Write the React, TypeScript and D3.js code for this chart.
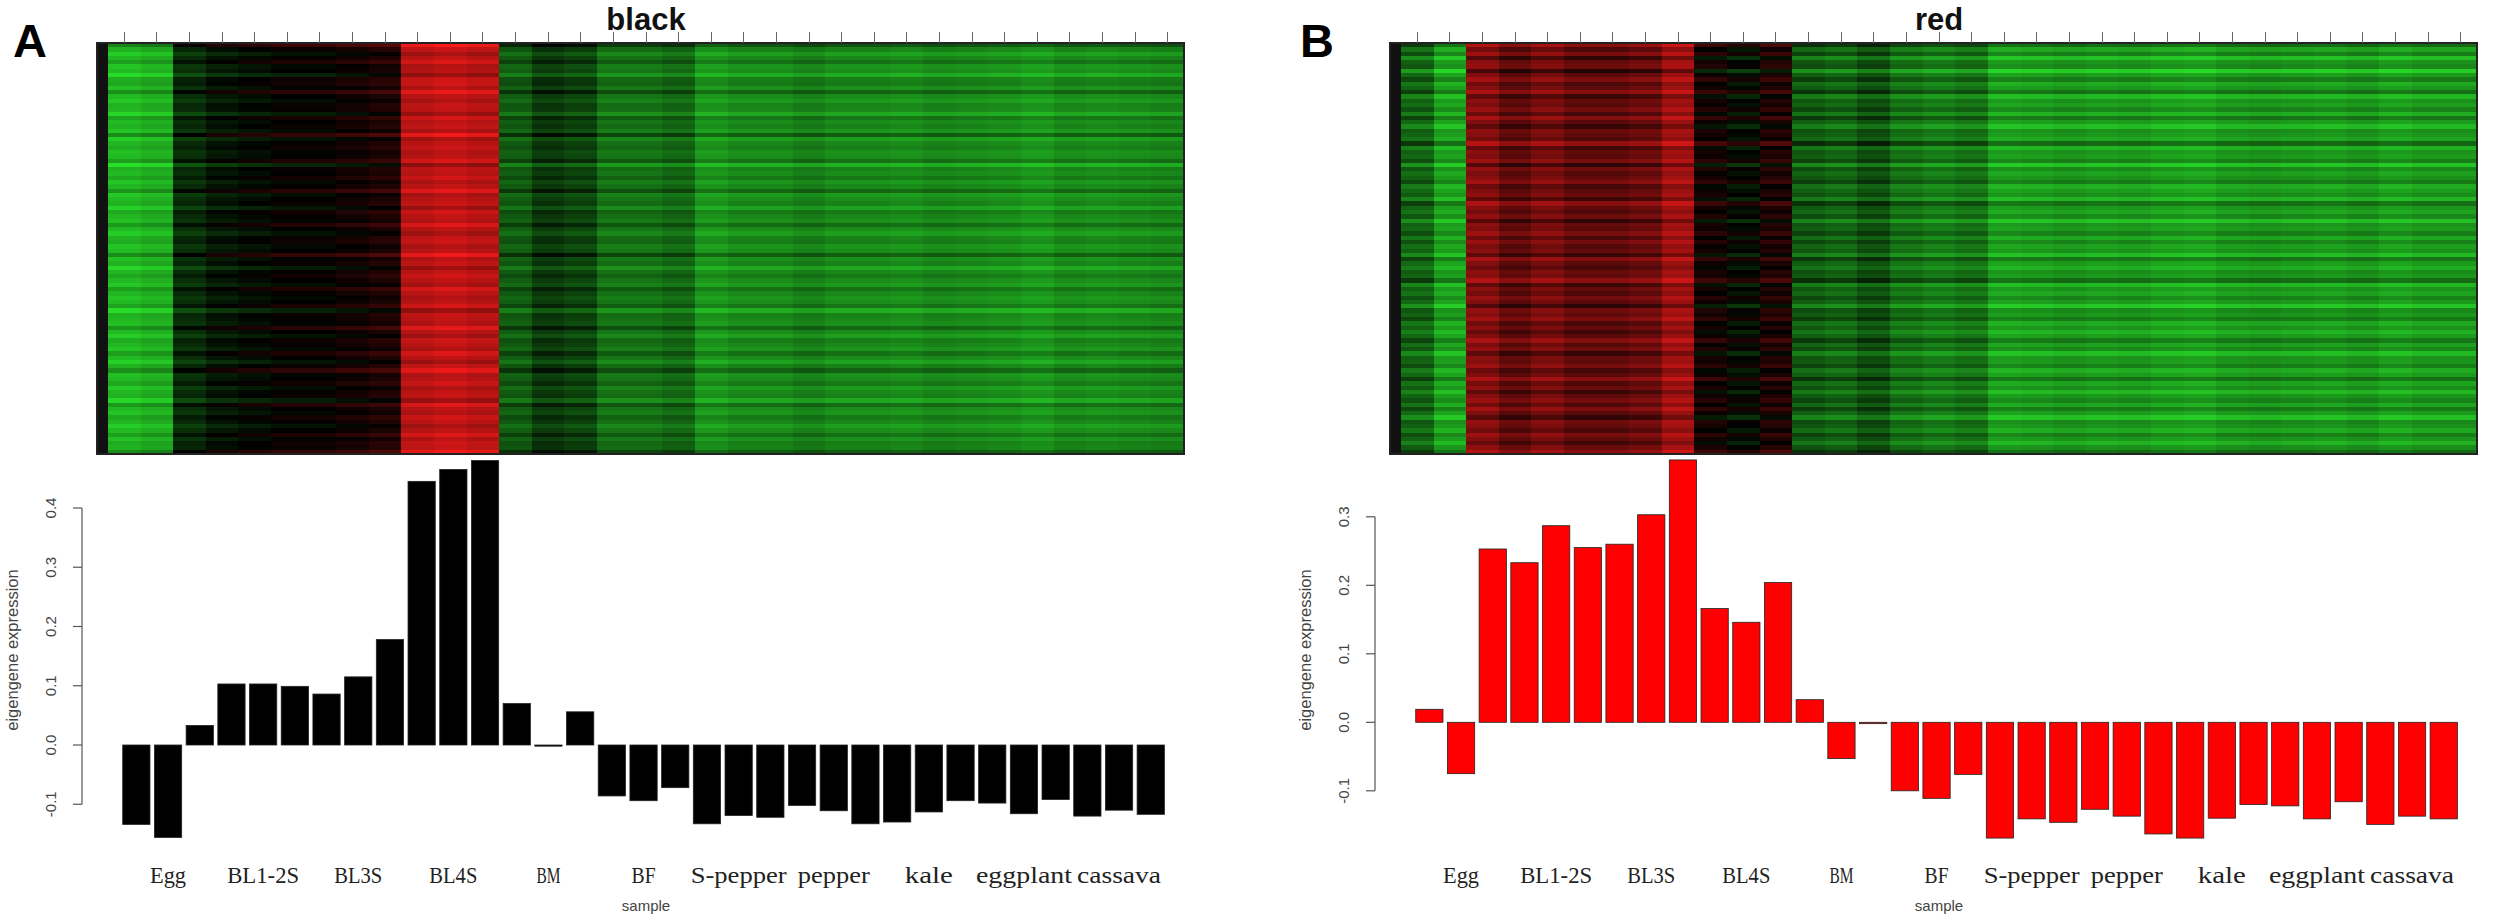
import React from 'react';
import * as d3 from 'd3';

// sample groups, three replicates each
const groups = ['Egg', 'BL1-2S', 'BL3S', 'BL4S', 'BM', 'BF', 'S-pepper', 'pepper', 'kale', 'eggplant', 'cassava'];
const samples = groups.flatMap(g => [g + '_1', g + '_2', g + '_3']);

// module eigengene values (bar heights)
const blackValues = [
  -0.134, -0.156, 0.033, 0.103, 0.103, 0.099, 0.086, 0.115, 0.178, 0.445, 0.465, 0.480,
  0.070, -0.002, 0.056, -0.086, -0.094, -0.072, -0.133, -0.119, -0.122, -0.102, -0.111,
  -0.133, -0.130, -0.113, -0.094, -0.098, -0.116, -0.092, -0.120, -0.110, -0.117,
];
const redValues = [
  0.019, -0.075, 0.253, 0.233, 0.287, 0.255, 0.260, 0.303, 0.383, 0.166, 0.146, 0.204,
  0.033, -0.053, -0.002, -0.100, -0.111, -0.076, -0.169, -0.141, -0.146, -0.127, -0.137,
  -0.163, -0.169, -0.140, -0.120, -0.122, -0.141, -0.116, -0.149, -0.137, -0.141,
];

const blackTicks = [-0.1, 0, 0.1, 0.2, 0.3, 0.4];
const redTicks = [-0.1, 0, 0.1, 0.2, 0.3];

// heatmap: mean column level (-1 green .. 1 red) and row deviations
const blackHeatCols = [
  -0.8, -0.75, -0.2, -0.1, -0.05, 0.0, 0.0, 0.05, 0.1, 0.7, 0.75, 0.7,
  -0.4, -0.25, -0.3, -0.5, -0.5, -0.45, -0.65, -0.6, -0.6, -0.55, -0.6,
  -0.6, -0.62, -0.58, -0.6, -0.62, -0.66, -0.6, -0.62, -0.6, -0.58,
];
const redHeatCols = [
  -0.45, -0.7, 0.5, 0.35, 0.45, 0.35, 0.35, 0.4, 0.6, 0.05, -0.05, 0.1,
  -0.4, -0.45, -0.35, -0.5, -0.55, -0.5, -0.7, -0.68, -0.65, -0.68, -0.66,
  -0.7, -0.72, -0.66, -0.64, -0.66, -0.68, -0.64, -0.7, -0.66, -0.66,
];
const blackRowShift = [
  0.6, 0.1, -0.2, 0.05, 0.3, -0.1, 0.0, -0.35, 0.15, 0.2, -0.05, 0.45, 0.0, -0.15, 0.1, 0.05,
  -0.3, 0.25, 0.0, 0.1, -0.1, 0.5, -0.2, 0.05, 0.15, -0.05, 0.0, 0.3, -0.4, 0.1, 0.0, 0.2,
  -0.1, 0.05, 0.4, -0.15, 0.0, 0.1, -0.25, 0.2, 0.05, -0.05, 0.35, 0.0, -0.2, 0.1, 0.15, -0.1,
  0.0, 0.5, -0.05, 0.1, -0.3, 0.05, 0.2, 0.0, -0.15, 0.3, 0.05, -0.1, 0.0, 0.25, -0.35, 0.1,
  0.05, -0.05, 0.4, 0.0, -0.2, 0.15, 0.05, -0.1, 0.3, 0.0, -0.25, 0.1, 0.45, -0.05, 0.0, 0.2,
  -0.15, 0.05, 0.1, -0.3, 0.35, 0.0, -0.1, 0.2, 0.05, -0.2, 0.0, 0.3, -0.05, 0.15, 0.1, 0.5,
];
const redRowShift = [
  0.5, -0.1, 0.3, -0.4, 0.1, 0.2, -0.55, 0.0, 0.35, -0.15, 0.05, 0.45, -0.3, 0.1, -0.05, 0.25,
  -0.2, 0.4, 0.0, -0.35, 0.15, 0.05, -0.1, 0.55, -0.25, 0.1, 0.0, 0.3, -0.45, 0.2, -0.05, 0.1,
  0.35, -0.2, 0.0, 0.15, -0.3, 0.45, 0.05, -0.1, 0.2, -0.4, 0.1, 0.0, 0.3, -0.15, 0.25, -0.05,
  0.1, -0.35, 0.4, 0.0, -0.2, 0.15, 0.05, 0.5, -0.3, 0.1, -0.1, 0.25, 0.0, -0.45, 0.2, 0.05,
  0.35, -0.15, 0.1, -0.25, 0.0, 0.4, -0.05, 0.2, -0.35, 0.1, 0.05, 0.3, -0.2, 0.0, 0.45, -0.1,
  0.15, -0.3, 0.05, 0.25, -0.1, 0.35, 0.0, -0.4, 0.2, 0.1, -0.15, 0.3, 0.05, -0.25, 0.15, 0.5,
];

const heatColor = (v: number) => {
  const c = Math.max(-1, Math.min(1, v));
  return c < 0
    ? d3.interpolateRgb('#000000', '#2be92b')(-c)
    : d3.interpolateRgb('#000000', '#ff1b1b')(c);
};

interface PanelProps {
  ox: number;
  letter: string;
  letterX: number;
  title: string;
  values: number[];
  ticks: number[];
  yMax: number;
  yRange: [number, number];
  barColor: string;
  heatCols: number[];
  rowShift: number[];
}

const Panel: React.FC<PanelProps> = ({ ox, letter, letterX, title, values, ticks, yMax, yRange, barColor, heatCols, rowShift }) => {
  const heatTop = 43;
  const heatBottom = 454;
  const colX = d3.scaleBand<string>().domain(samples).range([ox + 108, ox + 1184]);
  const rowY = d3.scaleBand<number>().domain(d3.range(rowShift.length)).range([heatTop, heatBottom]);
  const barX = d3.scaleBand<string>().domain(samples)
    .range([ox + 120.5, ox + 1166.6]).paddingInner(0.14).paddingOuter(0.07);
  const y = d3.scaleLinear().domain([0, yMax]).range(yRange);
  const axisX = ox + 82;
  const midX = ox + 646;

  return (
    <g>
      <text x={letterX} y={57} fontFamily="Liberation Sans, Arial, sans-serif" fontWeight="bold" fontSize={47} fill="#000">{letter}</text>
      <text x={midX} y={30} textAnchor="middle" fontFamily="Liberation Sans, Arial, sans-serif" fontWeight="bold" fontSize={31} fill="#111">{title}</text>

      {/* heatmap */}
      <g shapeRendering="crispEdges">
        <rect x={ox + 97} y={heatTop} width={11} height={heatBottom - heatTop} fill="#111" />
        {rowShift.map((rs, r) =>
          samples.map((s, c) => (
            <rect key={`${r}-${c}`} x={colX(s)} y={rowY(r)} width={colX.bandwidth() + 0.5} height={rowY.bandwidth() + 0.5}
              fill={heatColor(heatCols[c] + rs * 0.4)} />
          ))
        )}
        <rect x={ox + 97} y={heatTop} width={1184 - 97} height={heatBottom - heatTop} fill="none" stroke="#222" strokeWidth={1.5} />
        {samples.map(s => (
          <line key={s} x1={colX(s)! + colX.bandwidth() / 2} x2={colX(s)! + colX.bandwidth() / 2} y1={32} y2={heatTop} stroke="#666" strokeWidth={1} />
        ))}
      </g>

      {/* y axis */}
      <line x1={axisX} x2={axisX} y1={y(ticks[0])} y2={y(ticks[ticks.length - 1])} stroke="#555" strokeWidth={1.2} />
      {ticks.map(t => (
        <g key={t}>
          <line x1={axisX - 9} x2={axisX} y1={y(t)} y2={y(t)} stroke="#555" strokeWidth={1.2} />
          <text transform={`translate(${ox + 50},${y(t)}) rotate(-90)`} textAnchor="middle" dominantBaseline="central"
            fontFamily="Liberation Sans, Arial, sans-serif" fontSize={15} fill="#444">{t.toFixed(1)}</text>
        </g>
      ))}
      <text transform={`translate(${ox + 12},650) rotate(-90)`} textAnchor="middle" dominantBaseline="central"
        fontFamily="Liberation Sans, Arial, sans-serif" fontSize={16.5} fill="#444">eigengene expression</text>

      {/* bars */}
      {values.map((v, i) => (
        <rect key={samples[i]} x={barX(samples[i])} width={barX.bandwidth()}
          y={Math.min(y(v), y(0))} height={Math.max(Math.abs(y(v) - y(0)), 1)}
          fill={barColor} stroke="#222" strokeWidth={0.8} />
      ))}

      {/* group labels under middle replicate */}
      {groups.map(g => {
        const s = g + '_2';
        return (
          <text key={g} x={barX(s)! + barX.bandwidth() / 2} y={883} textAnchor="middle"
            fontFamily="Liberation Serif, serif" fontSize={24} fill="#222"
            textLength={g.length * 12} lengthAdjust="spacingAndGlyphs">{g}</text>
        );
      })}
      <text x={midX} y={911} textAnchor="middle" fontFamily="Liberation Sans, Arial, sans-serif" fontSize={15} fill="#444">sample</text>
    </g>
  );
};

const App: React.FC = () => (
  <svg width={2500} height={922} style={{ position: 'absolute', left: 0, top: 0, background: '#fff' }}>
    <Panel ox={0} letter="A" letterX={13} title="black" values={blackValues} ticks={blackTicks}
      yMax={0.4} yRange={[745, 508]} barColor="#000" heatCols={blackHeatCols} rowShift={blackRowShift} />
    <Panel ox={1293} letter="B" letterX={1300} title="red" values={redValues} ticks={redTicks}
      yMax={0.3} yRange={[722.3, 516.8]} barColor="#ff0000" heatCols={redHeatCols} rowShift={redRowShift} />
  </svg>
);

export default App;
